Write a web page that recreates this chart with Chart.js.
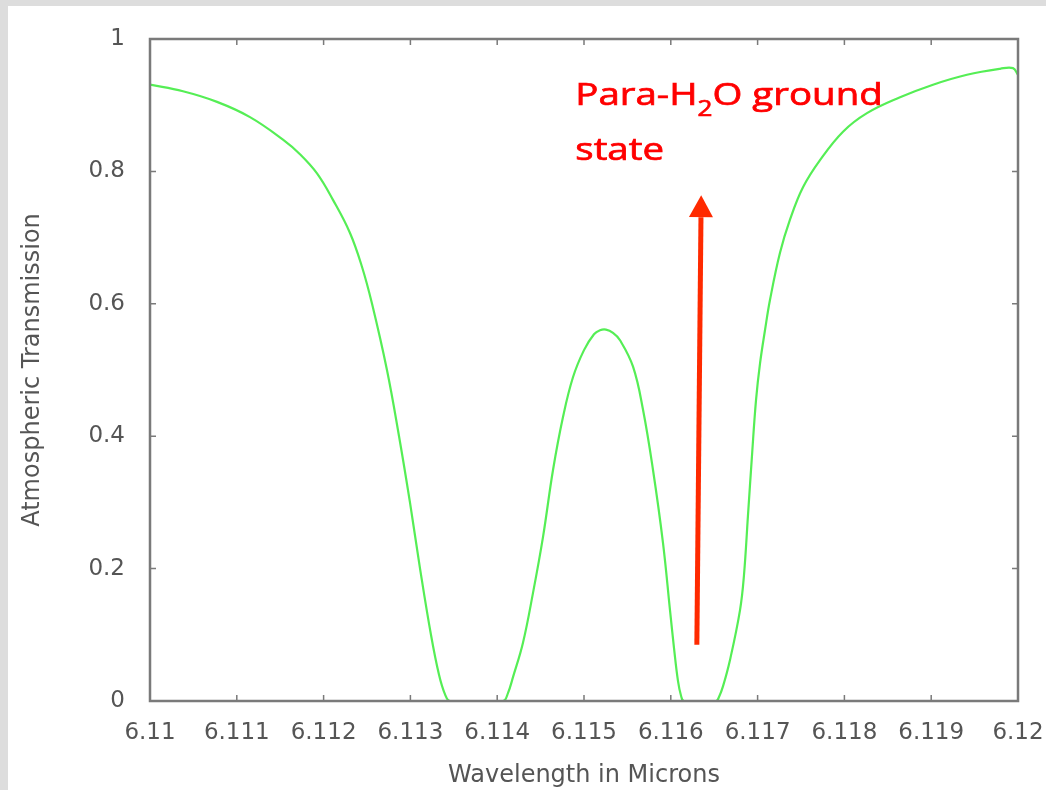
<!DOCTYPE html>
<html>
<head>
<meta charset="utf-8">
<script src="https://cdn.jsdelivr.net/npm/chart.js@4.4.0/dist/chart.umd.min.js"></script>
<style>
    html, body { margin: 0; padding: 0; background: #dddddd; }
    #kader { position: absolute; left: 8px; top: 6px; width: 1038px; height: 784px; background: #ffffff; }
</style>
</head>
<body>
<div id="kader"><canvas id="grafiek" width="1038" height="784"></canvas></div>
<script>
// ---- DATA ----
const golflengte = [
    6.110000, 6.110380, 6.110772, 6.111152, 6.111532, 6.111728, 6.111924, 6.112108, 6.112304, 6.112442,
    6.112558, 6.112730, 6.112869, 6.112995, 6.113111, 6.113237, 6.113329, 6.113399, 6.113456,
    6.114067, 6.114124, 6.114182, 6.114297, 6.114412, 6.114528, 6.114643, 6.114758, 6.114873, 6.115000,
    6.115115, 6.115184, 6.115253, 6.115334, 6.115415, 6.115565, 6.115680, 6.115795, 6.115910, 6.115991,
    6.116037, 6.116083, 6.116118, 6.116152, 6.116521, 6.116555, 6.116601, 6.116682, 6.116797, 6.116843,
    6.116889, 6.116935, 6.116982, 6.117028, 6.117085, 6.117143, 6.117258, 6.117373, 6.117523, 6.117719,
    6.117984, 6.118260, 6.118641, 6.119021, 6.119412, 6.119793, 6.119942, 6.120000
];
const transmissie = [
    0.931, 0.921, 0.905, 0.882, 0.848, 0.826, 0.797, 0.757, 0.707, 0.656,
    0.600, 0.500, 0.400, 0.300, 0.200, 0.100, 0.040, 0.010, 0,
    0, 0.012, 0.036, 0.088, 0.163, 0.248, 0.349, 0.429, 0.489, 0.530,
    0.554, 0.560, 0.561, 0.556, 0.545, 0.505, 0.440, 0.349, 0.239, 0.137,
    0.080, 0.030, 0.008, 0, 0, 0.006, 0.022, 0.062, 0.137, 0.190,
    0.280, 0.370, 0.455, 0.510, 0.560, 0.606, 0.677, 0.727, 0.776, 0.817,
    0.860, 0.888, 0.912, 0.931, 0.946, 0.955, 0.956, 0.946
];
const xTicks = [6.11, 6.111, 6.112, 6.113, 6.114, 6.115, 6.116, 6.117, 6.118, 6.119, 6.12];
const xTickLabels = ["6.11", "6.111", "6.112", "6.113", "6.114", "6.115", "6.116", "6.117", "6.118", "6.119", "6.12"];
const yTicks = [0, 0.2, 0.4, 0.6, 0.8, 1];
const yTickLabels = ["0", "0.2", "0.4", "0.6", "0.8", "1"];

// pijl en tekst (in data-coordinaten)
const pijlX = [6.1163, 6.11635];
const pijlY = [0.085, 0.764];
const labelX = 6.1149;
const labelY = [0.900, 0.817];
const labelRegel1 = ["Para-H", "2", "O ground"];
const labelRegel2 = "state";

const grijs = "#555555";
const tickFont = { family: "DejaVu Sans", size: 23 };
const titelFont = { family: "DejaVu Sans", size: 24 };

// ---- KADER, TICKS, PIJL EN TEKST ----
const kaderPlugin = {
    id: "kader",
    afterDraw(chart) {
        const ctx = chart.ctx;
        const a = chart.chartArea;
        const x = chart.scales.x;
        const y = chart.scales.y;
        ctx.save();

        // ticks naar binnen, op alle vier de zijden
        ctx.strokeStyle = "#7a7a7a";
        ctx.lineWidth = 1.5;
        ctx.beginPath();
        xTicks.forEach(v => {
            const px = x.getPixelForValue(v);
            ctx.moveTo(px, a.bottom); ctx.lineTo(px, a.bottom - 6);
            ctx.moveTo(px, a.top); ctx.lineTo(px, a.top + 6);
        });
        yTicks.forEach(v => {
            const py = y.getPixelForValue(v);
            ctx.moveTo(a.left, py); ctx.lineTo(a.left + 6, py);
            ctx.moveTo(a.right, py); ctx.lineTo(a.right - 6, py);
        });
        ctx.stroke();

        ctx.lineWidth = 2.5;
        ctx.strokeRect(a.left, a.top, a.right - a.left, a.bottom - a.top);

        // pijl
        const x0 = x.getPixelForValue(pijlX[0]), y0 = y.getPixelForValue(pijlY[0]);
        const x1 = x.getPixelForValue(pijlX[1]), y1 = y.getPixelForValue(pijlY[1]);
        const hoek = Math.atan2(y1 - y0, x1 - x0);
        const kop = 22, breed = 12;
        const bx = x1 - kop * Math.cos(hoek), by = y1 - kop * Math.sin(hoek);
        ctx.strokeStyle = "#ff2a00";
        ctx.fillStyle = "#ff2a00";
        ctx.lineWidth = 5;
        ctx.beginPath();
        ctx.moveTo(x0, y0);
        ctx.lineTo(bx, by);
        ctx.stroke();
        ctx.beginPath();
        ctx.moveTo(x1, y1);
        ctx.lineTo(bx + breed * Math.sin(hoek), by - breed * Math.cos(hoek));
        ctx.lineTo(bx - breed * Math.sin(hoek), by + breed * Math.cos(hoek));
        ctx.closePath();
        ctx.fill();

        // tekst, iets breed getrokken zoals in het origineel
        const tx = x.getPixelForValue(labelX);
        const ty1 = y.getPixelForValue(labelY[0]);
        const ty2 = y.getPixelForValue(labelY[1]);
        ctx.fillStyle = "#ff0000";
        ctx.strokeStyle = "#ff0000";
        ctx.lineWidth = 0.7;
        ctx.textBaseline = "alphabetic";
        ctx.textAlign = "left";
        ctx.translate(tx, 0);
        ctx.scale(1.24, 1);
        const schrijf = (t, px, py) => { ctx.fillText(t, px, py); ctx.strokeText(t, px, py); };
        let cx = 0;
        ctx.font = "31px 'Open Sans'";
        schrijf(labelRegel1[0], cx, ty1);
        cx += ctx.measureText(labelRegel1[0]).width;
        ctx.font = "21px 'Open Sans'";
        schrijf(labelRegel1[1], cx, ty1 + 11);
        cx += ctx.measureText(labelRegel1[1]).width;
        ctx.font = "31px 'Open Sans'";
        schrijf(labelRegel1[2], cx, ty1);
        schrijf(labelRegel2, 0, ty2);

        ctx.restore();
    }
};

const ctx = document.getElementById("grafiek").getContext("2d");
const grafiek = new Chart(ctx, {
    type: "line",
    data: {
        datasets: [{
            label: "Atmospheric Transmission",
            data: golflengte.map((g, i) => ({ x: g, y: transmissie[i] })),
            borderColor: "#55ee55",
            borderWidth: 2.2,
            pointRadius: 0,
            tension: 0.4,
            fill: false
        }]
    },
    options: {
        responsive: false,
        animation: false,
        layout: { padding: { left: 0, top: 33, right: 28, bottom: 0 } },
        plugins: {
            legend: { display: false },
            tooltip: { enabled: false }
        },
        scales: {
            x: {
                type: "linear",
                min: 6.11,
                max: 6.12,
                grid: { display: false, drawTicks: false },
                border: { display: false },
                afterBuildTicks: s => { s.ticks = xTicks.map(v => ({ value: v })); },
                afterFit: s => { s.height = 89; s.paddingLeft = 0; s.paddingRight = 0; },
                ticks: {
                    color: grijs,
                    font: tickFont,
                    padding: 18,
                    autoSkip: false,
                    maxRotation: 0,
                    callback: (v, i) => xTickLabels[i]
                },
                title: {
                    display: true,
                    text: "Wavelength in Microns",
                    color: grijs,
                    font: titelFont,
                    padding: { top: 0, bottom: 0 }
                }
            },
            y: {
                min: 0,
                max: 1,
                grid: { display: false, drawTicks: false },
                border: { display: false },
                afterBuildTicks: s => { s.ticks = yTicks.map(v => ({ value: v })); },
                afterFit: s => { s.width = 142; s.paddingTop = 0; s.paddingBottom = 0; },
                ticks: {
                    color: grijs,
                    font: tickFont,
                    padding: 25,
                    callback: (v, i) => yTickLabels[i]
                },
                title: {
                    display: true,
                    text: "Atmospheric Transmission",
                    color: grijs,
                    font: titelFont,
                    padding: { top: 10, bottom: 0 }
                }
            }
        }
    },
    plugins: [kaderPlugin]
});
</script>
</body>
</html>
